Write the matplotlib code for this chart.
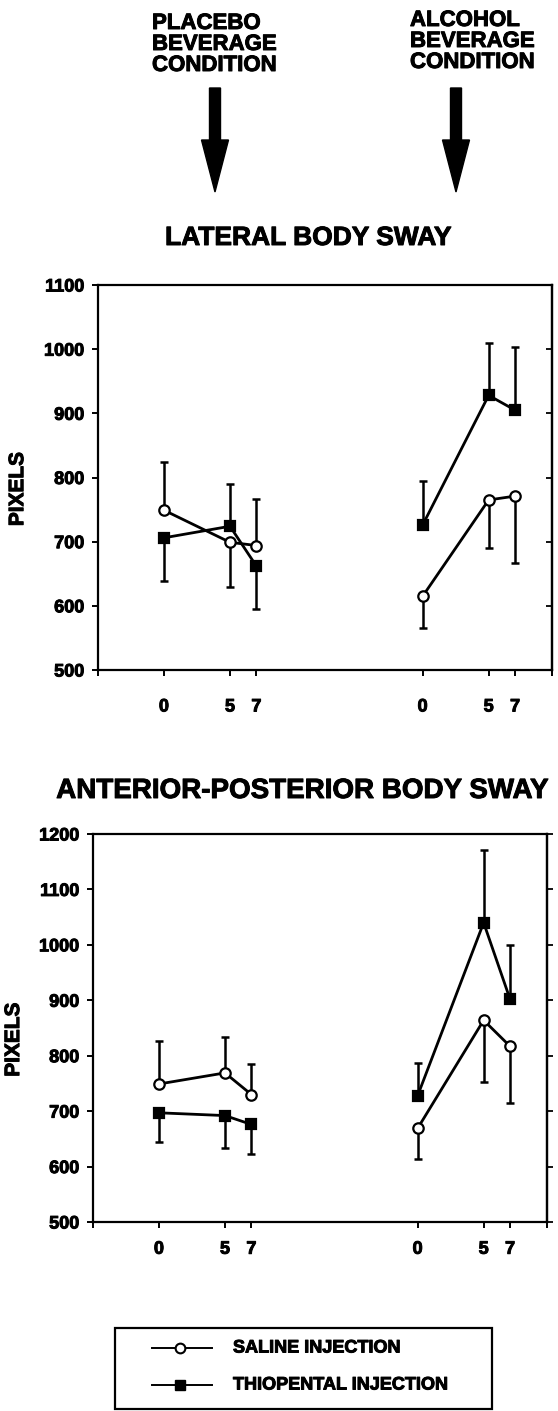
import matplotlib
matplotlib.use("Agg")
import matplotlib.pyplot as plt
import matplotlib.patheffects as pe
import numpy as np
from matplotlib.patches import FancyArrow, Rectangle

plt.rcParams["font.family"] = ["Liberation Sans", "DejaVu Sans"]
plt.rcParams["font.weight"] = "bold"

# minutes after injection; alcohol group is drawn to the right of the placebo group
times = [0, 5, 7]
alcohol_offset = 19.6
tick_labels = ["0", "5", "7", "0", "5", "7"]

# lateral body sway (pixels); errors are one-sided: + drawn up, - drawn down
lat_saline_placebo = [749, 699, 694]
lat_saline_placebo_err = [75, -69, 72]
lat_saline_alcohol = [615, 765, 771]
lat_saline_alcohol_err = [-50, -75, -104]
lat_thio_placebo = [706, 724, 662]
lat_thio_placebo_err = [-68, 66, -67]
lat_thio_alcohol = [726, 928, 905]
lat_thio_alcohol_err = [68, 81, 99]

# anterior-posterior body sway (pixels)
ap_saline_placebo = [749, 769, 730]
ap_saline_placebo_err = [77, 65, 55]
ap_saline_alcohol = [669, 864, 817]
ap_saline_alcohol_err = [-56, -112, -102]
ap_thio_placebo = [697, 692, 676]
ap_thio_placebo_err = [-53, -58, -54]
ap_thio_alcohol = [728, 1040, 902]
ap_thio_alcohol_err = [58, 131, 98]

W, H = 558, 1411
fig = plt.figure(figsize=(W / 100, H / 100), dpi=100)
ink = [pe.withStroke(linewidth=0.7, foreground="black")]


def px_axes(left, top, right, bottom):
    return fig.add_axes([left / W, 1 - bottom / H, (right - left) / W, (bottom - top) / H])


def draw_series(ax, means, errs, offset, marker, face, ms):
    xs = np.array(times) + offset
    errs = np.array(errs)
    lo = np.where(errs < 0, -errs, 0)
    hi = np.where(errs > 0, errs, 0)
    ax.errorbar(xs, means, yerr=[lo, hi], fmt="none", ecolor="black",
                elinewidth=1.8, capsize=2.6, capthick=1.8, zorder=2)
    ax.plot(xs, means, color="black", lw=2.0, marker=marker, ms=ms,
            mfc=face, mec="black", mew=1.6, zorder=3)


def setup_panel(ax, ymin, ymax, right_dir, xlab_pad):
    ax.set_xlim(-5.0, 29.4)
    ax.set_ylim(ymin, ymax)
    xt = list(times) + [t + alcohol_offset for t in times]
    ax.set_xticks(xt)
    ax.set_xticklabels(tick_labels)
    ax.set_xticks([-5.0, 29.4], minor=True)
    ax.set_yticks(range(ymin, ymax + 1, 100))
    for s in ax.spines.values():
        s.set_linewidth(1.6)
    ax.tick_params(axis="y", direction="out", length=4.3, width=1.4, pad=5.5, labelsize=13)
    ax.tick_params(axis="x", which="both", direction="out", length=4.5, width=1.4,
                   pad=xlab_pad, labelsize=13)
    for lab in ax.get_xticklabels() + ax.get_yticklabels():
        lab.set_path_effects(ink)
    sec = ax.secondary_yaxis("right")
    sec.set_yticks(range(ymin, ymax + 1, 100))
    sec.tick_params(direction=right_dir, length=4, width=1.3, labelright=False)
    sec.spines["right"].set_linewidth(1.6)
    ax.set_ylabel("PIXELS", fontsize=15, fontweight="bold", path_effects=ink)


# lateral panel
ax1 = px_axes(98, 285, 552, 670)
setup_panel(ax1, 500, 1100, "in", 16)
ax1.yaxis.set_label_coords(-0.156, 0.47)
draw_series(ax1, lat_saline_placebo, lat_saline_placebo_err, 0, "o", "white", 7.5)
draw_series(ax1, lat_saline_alcohol, lat_saline_alcohol_err, alcohol_offset, "o", "white", 7.5)
draw_series(ax1, lat_thio_placebo, lat_thio_placebo_err, 0, "s", "black", 6.5)
draw_series(ax1, lat_thio_alcohol, lat_thio_alcohol_err, alcohol_offset, "s", "black", 6.5)

# anterior-posterior panel
ax2 = px_axes(93, 834, 547, 1222)
setup_panel(ax2, 500, 1200, "out", 9)
ax2.yaxis.set_label_coords(-0.154, 0.47)
draw_series(ax2, ap_saline_placebo, ap_saline_placebo_err, 0, "o", "white", 7.5)
draw_series(ax2, ap_saline_alcohol, ap_saline_alcohol_err, alcohol_offset, "o", "white", 7.5)
draw_series(ax2, ap_thio_placebo, ap_thio_placebo_err, 0, "s", "black", 6.5)
draw_series(ax2, ap_thio_alcohol, ap_thio_alcohol_err, alcohol_offset, "s", "black", 6.5)

# overlay in pixel coordinates for the header, titles and legend box
ov = fig.add_axes([0, 0, 1, 1], zorder=-1)
ov.set_xlim(0, W)
ov.set_ylim(H, 0)
ov.axis("off")

ov.text(152, 13, "PLACEBO\nBEVERAGE\nCONDITION", ha="left", va="top",
        fontsize=16, linespacing=1.0, path_effects=ink)
ov.text(410, 10, "ALCOHOL\nBEVERAGE\nCONDITION", ha="left", va="top",
        fontsize=16, linespacing=1.0, path_effects=ink)
for x in (215, 456):
    ov.add_patch(FancyArrow(x, 88, 0, 104, width=11, head_width=27, head_length=52,
                            length_includes_head=True, color="black"))

ov.text(308, 238, "LATERAL BODY SWAY", ha="center", va="center", fontsize=19,
        path_effects=ink)
ov.text(302, 791, "ANTERIOR-POSTERIOR BODY SWAY", ha="center", va="center", fontsize=20,
        path_effects=ink)

# legend
ov.add_patch(Rectangle((115, 1328), 377, 81, fill=False, lw=1.6, ec="black"))
ov.plot([152, 212], [1348, 1348], color="black", lw=1.4)
ov.plot([180], [1348], marker="o", ms=7, mfc="white", mec="black", mew=1.5)
ov.plot([152, 212], [1385, 1385], color="black", lw=1.4)
ov.plot([180], [1385], marker="s", ms=6.5, mfc="black", mec="black")
ov.text(233, 1348, "SALINE INJECTION", va="center", fontsize=13, path_effects=ink)
ov.text(233, 1385, "THIOPENTAL INJECTION", va="center", fontsize=13, path_effects=ink)

fig.savefig("out.png", dpi=100)
